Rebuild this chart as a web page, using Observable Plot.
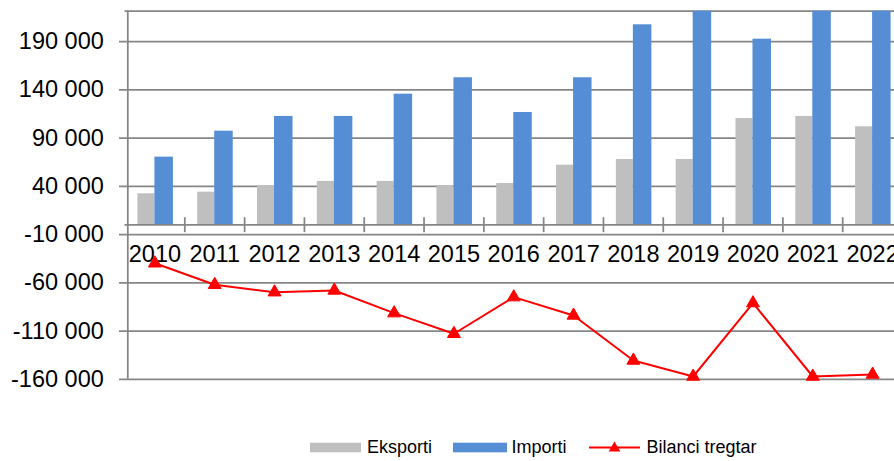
<!DOCTYPE html>
<html>
<head>
<meta charset="utf-8">
<script src="https://cdn.jsdelivr.net/npm/d3@7"></script>
<script src="https://cdn.jsdelivr.net/npm/@observablehq/plot@0.6"></script>
<style>
  html, body { margin: 0; padding: 0; background: #fff; overflow: hidden; }
  #wrap { position: relative; width: 894px; height: 461px; overflow: hidden; font-family: "Liberation Sans", Arial, sans-serif; }
  #chart svg { display: block; max-width: none !important; width: 902px !important; height: 420px !important; }
  .leg { position: absolute; top: 437px; height: 21px; line-height: 21px; font-size: 18px; color: #000; white-space: nowrap; }
  .sw { position: absolute; }
</style>
</head>
<body>
<div id="wrap">
  <div id="chart"></div>
  <div class="leg" style="left:310px;"><svg class="sw" width="51" height="21" style="left:0;top:0"><rect x="0" y="5.7" width="51" height="9.6" fill="#BFBFBF"/></svg><span style="position:absolute;left:57px;top:0">Eksporti</span></div>
  <div class="leg" style="left:453px;"><svg class="sw" width="54" height="21" style="left:0;top:0"><rect x="0" y="5.7" width="54" height="9.6" fill="#558ED5"/></svg><span style="position:absolute;left:58.5px;top:0">Importi</span></div>
  <div class="leg" style="left:589px;"><svg class="sw" width="52" height="21" style="left:0;top:0"><line x1="0" x2="51" y1="10.5" y2="10.5" stroke="#FF0000" stroke-width="2"/><path d="M25.5,4.6 L31.3,14.6 L19.7,14.6 Z" fill="#FF0000"/></svg><span style="position:absolute;left:57.5px;top:0">Bilanci tregtar</span></div>
</div>
<script>
const years = ["2010","2011","2012","2013","2014","2015","2016","2017","2018","2019","2020","2021","2022"];
const eksporti = [32300, 34000, 40600, 45100, 45100, 40900, 43000, 62000, 67900, 67900, 110400, 112500, 101800];
const importi = [70300, 97200, 112500, 112500, 135600, 152600, 116600, 152600, 207500, 225000, 192600, 269600, 256800];
const bilanci = [-39700, -62000, -69700, -67900, -91400, -112800, -74800, -93800, -140500, -157100, -81000, -157100, -155000];
const yTicks = [190000, 140000, 90000, 40000, -10000, -60000, -110000, -160000];
const yMin = -160000, yMax = 221600;

const data = years.map((year, i) => ({year, eksporti: eksporti[i], importi: importi[i], bilanci: bilanci[i]}));

const W = 902, ML = 124.5, MR = 0;
const bw = (W - ML - MR) / years.length;
const half = bw / 2;
const grid = "#868686";
const fmt = v => (v < 0 ? "-" : "") + d3.format(",")(Math.abs(v)).replace(/,/g, " ");

const chart = Plot.plot({
  width: W,
  height: 420,
  marginLeft: ML,
  marginRight: MR,
  marginTop: 10.7,
  marginBottom: 41.2,
  style: {fontFamily: "'Liberation Sans', Arial, sans-serif", fontSize: "23.5px", color: "#000", background: "#fff", overflow: "visible"},
  x: {type: "band", domain: years, padding: 0, round: false, axis: null},
  y: {domain: [yMin, yMax]},
  marks: [
    Plot.gridY(yTicks, {stroke: grid, strokeOpacity: 1, strokeWidth: 1.75, insetLeft: -5.5}),
    Plot.ruleY([yMax], {stroke: grid, strokeWidth: 1.75}),
    Plot.barY(data, {x: "year", y: "eksporti", fill: "#BFBFBF", insetLeft: half - 17, insetRight: half, clip: true}),
    Plot.barY(data, {x: "year", y: "importi", fill: "#558ED5", insetLeft: half, insetRight: half - 18.5, clip: true}),
    Plot.ruleY([0], {stroke: grid, strokeWidth: 1.75}),
    Plot.ruleX(years, {x: d => d, dx: half, y1: -8000, y2: 7500, stroke: grid, strokeWidth: 1.75}),
    Plot.ruleX([years[0]], {x: d => d, dx: -half + 2.8, stroke: grid, strokeWidth: 1.75}),
    Plot.axisY(yTicks, {tickSize: 0, tickPadding: 21.2, tickFormat: fmt, fontSize: 23.5, fill: "#000"}),
    Plot.text(data, {x: "year", y: 0, dy: 29.5, text: "year", fontSize: 23.5, fill: "#000"}),
    Plot.line(data, {x: "year", y: "bilanci", stroke: "#FF0000", strokeWidth: 2}),
    Plot.dot(data, {x: "year", y: "bilanci", symbol: "triangle", r: 4.8, fill: "#FF0000", stroke: "#FF0000", strokeWidth: 1})
  ]
});
document.getElementById("chart").appendChild(chart);
</script>
</body>
</html>
